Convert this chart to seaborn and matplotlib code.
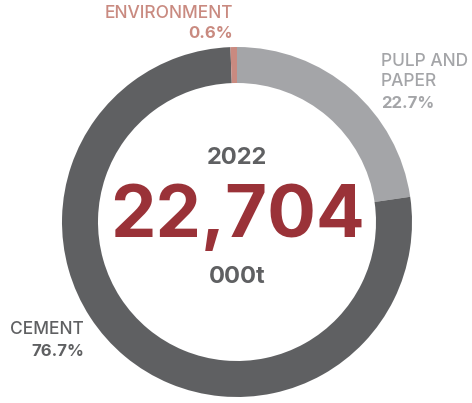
import matplotlib
matplotlib.use("Agg")
import matplotlib.pyplot as plt
import seaborn as sns

# data
segments = ["PULP AND\nPAPER", "CEMENT", "ENVIRONMENT"]
shares = [22.7, 76.7, 0.6]
colors = ["#a4a5a8", "#5f6062", "#c98a80"]
year = "2022"
total = "22,704"
unit = "000t"

sns.set_theme(style="white")
plt.rcParams["font.family"] = ["Inter", "DejaVu Sans"]

W, H = 472, 403
fig = plt.figure(figsize=(W / 100, H / 100), dpi=100)
ax = fig.add_axes([0, 0, 1, 1])

cx, cy = 237, H - 222
ax.pie(shares, colors=colors, startangle=90, counterclock=False,
       center=(cx, cy), radius=175, frame=True,
       wedgeprops=dict(width=36, linewidth=0))
ax.set_xlim(0, W)
ax.set_ylim(0, H)
ax.set_aspect("equal")
ax.axis("off")

# centre text
ax.text(cx, H - 158, year, ha="center", va="center", fontsize=17,
        fontweight="bold", color="#5f6062")
ax.text(cx, H - 218, total, ha="center", va="center", fontsize=52,
        fontweight="bold", color="#9a3238")
ax.text(cx, H - 277, unit, ha="center", va="center", fontsize=17,
        fontweight="bold", color="#5f6062")

# segment labels
lab = dict(fontsize=12.5, fontweight="medium")
pct = dict(fontsize=12, fontweight="bold")
ax.text(233, H - 14, "ENVIRONMENT", ha="right", va="center",
        color=colors[2], **lab)
ax.text(233, H - 34, f"{shares[2]}%", ha="right", va="center",
        color=colors[2], **pct)

ax.text(381, H - 62, "PULP AND", ha="left", va="center",
        color=colors[0], **lab)
ax.text(381, H - 82, "PAPER", ha="left", va="center",
        color=colors[0], **lab)
ax.text(381, H - 103, f"{shares[0]}%", ha="left", va="center",
        color=colors[0], **pct)

ax.text(84, H - 330, "CEMENT", ha="right", va="center",
        color=colors[1], **lab)
ax.text(84, H - 351, f"{shares[1]}%", ha="right", va="center",
        color=colors[1], **pct)

fig.savefig("out.png", dpi=100)
